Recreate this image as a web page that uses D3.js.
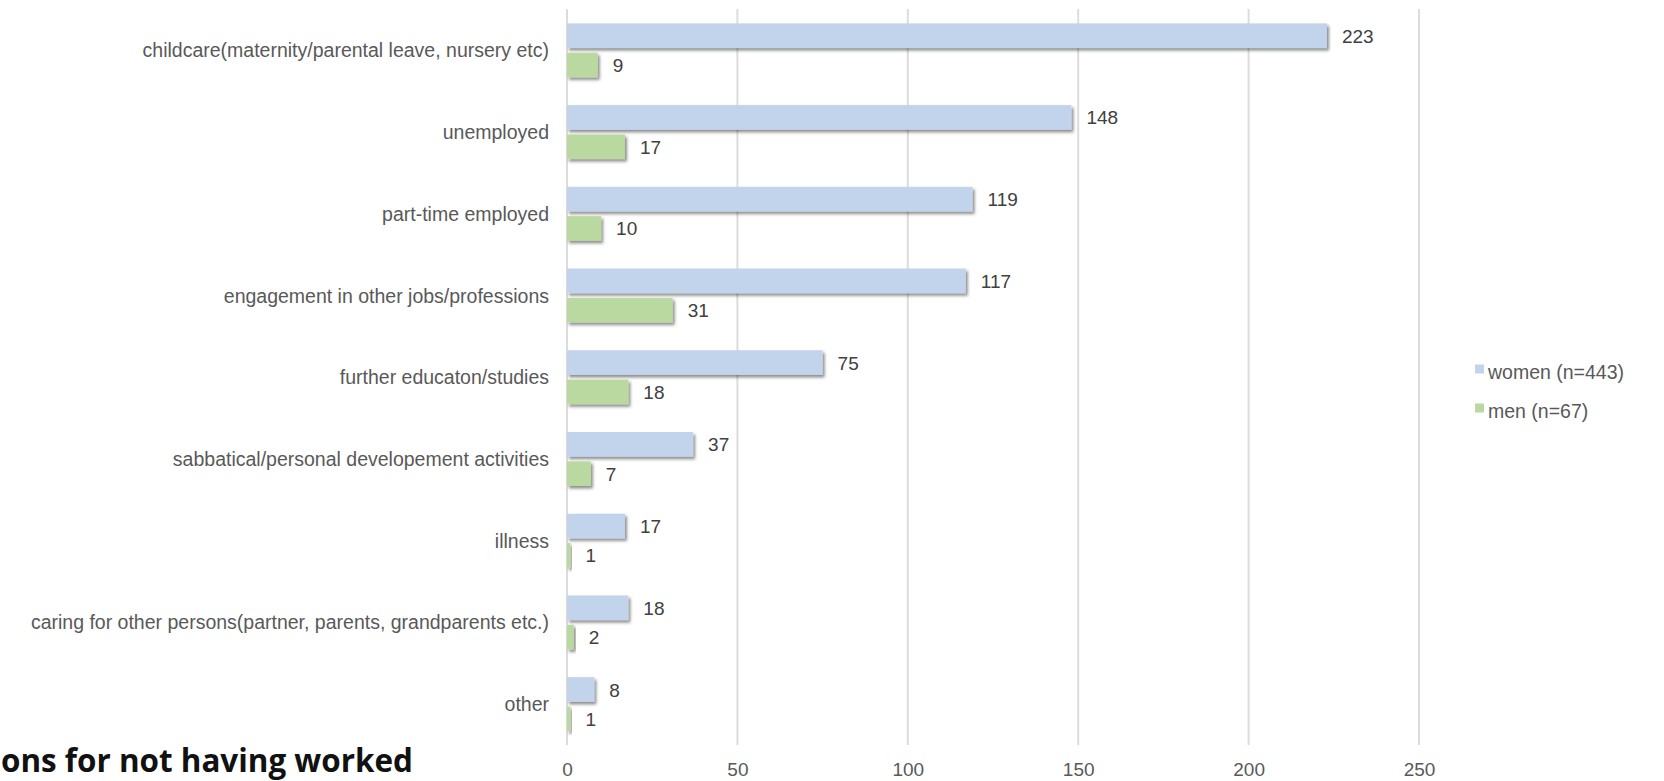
<!DOCTYPE html>
<html>
<head>
<meta charset="utf-8">
<script src="https://cdn.jsdelivr.net/npm/d3@7"></script>
<style>
  html, body { margin: 0; padding: 0; background: #fff; overflow: hidden; }
  svg { display: block; }
</style>
</head>
<body>
<svg id="chart" width="1664" height="781"></svg>
<script>
// Reasons given for not having worked, counted by gender
const categories = [
  "childcare(maternity/parental leave, nursery etc)",
  "unemployed",
  "part-time employed",
  "engagement in other jobs/professions",
  "further educaton/studies",
  "sabbatical/personal developement activities",
  "illness",
  "caring for other persons(partner, parents, grandparents etc.)",
  "other"
];
const seriesNames = ["women (n=443)", "men (n=67)"];
const women = [223, 148, 119, 117, 75, 37, 17, 18, 8];
const men = [9, 17, 10, 31, 18, 7, 1, 2, 1];
const xTicks = [0, 50, 100, 150, 200, 250];
const title = "ons for not having worked";

const colors = ["#c2d3ec", "#b9d9a0"];
const seriesValues = [women, men];
const labelFont = "Liberation Sans, Arial, sans-serif";

const svg = d3.select("#chart");

const defs = svg.append("defs");
const shadow = defs.append("filter")
  .attr("id", "barShadow")
  .attr("x", "-20%").attr("y", "-40%")
  .attr("width", "140%").attr("height", "200%");
shadow.append("feDropShadow")
  .attr("dx", 2).attr("dy", 2.5)
  .attr("stdDeviation", 1.4)
  .attr("flood-color", "#000")
  .attr("flood-opacity", 0.45);

const x = d3.scaleLinear().domain([0, 250]).range([567, 1419]);

const y = d3.scaleBand()
  .domain(categories)
  .range([9.5, 745])
  .paddingInner(0.34)
  .paddingOuter(0.17);

const ySub = d3.scaleBand()
  .domain(seriesNames)
  .range([0, y.bandwidth()])
  .paddingInner(0.16);

// vertical gridlines
svg.append("g")
  .selectAll("line")
  .data(xTicks)
  .join("line")
  .attr("x1", d => x(d)).attr("x2", d => x(d))
  .attr("y1", 9).attr("y2", 745)
  .attr("stroke", "#dcdcdc")
  .attr("stroke-width", 2);

// x axis labels
const xAxis = d3.axisBottom(x).tickValues(xTicks).tickSize(0).tickPadding(0);
const gx = svg.append("g").attr("transform", "translate(0,762)").call(xAxis);
gx.select(".domain").remove();
gx.selectAll("text")
  .attr("font-family", labelFont)
  .attr("font-size", 19)
  .attr("fill", "#595959")
  .attr("dy", "0.71em");

// category labels
const yAxis = d3.axisLeft(y).tickSize(0).tickPadding(18);
const gy = svg.append("g").attr("transform", `translate(${x(0)},0)`).call(yAxis);
gy.select(".domain").remove();
gy.selectAll("text")
  .attr("font-family", labelFont)
  .attr("font-size", 19.5)
  .attr("fill", "#595959")
  .attr("dy", "0.36em");

// bars
const rows = [];
categories.forEach((c, i) => {
  seriesNames.forEach((s, j) => {
    rows.push({ category: c, series: s, value: seriesValues[j][i], color: colors[j] });
  });
});

svg.append("g")
  .selectAll("rect")
  .data(rows)
  .join("rect")
  .attr("x", x(0))
  .attr("y", d => y(d.category) + ySub(d.series))
  .attr("width", d => x(d.value) - x(0))
  .attr("height", ySub.bandwidth())
  .attr("fill", d => d.color)
  .attr("filter", "url(#barShadow)");

// value labels
svg.append("g")
  .selectAll("text")
  .data(rows)
  .join("text")
  .attr("x", d => x(d.value) + 15)
  .attr("y", d => y(d.category) + ySub(d.series) + ySub.bandwidth() / 2)
  .attr("dy", "0.37em")
  .attr("font-family", labelFont)
  .attr("font-size", 19)
  .attr("fill", "#404040")
  .text(d => d.value);

// legend
const legend = svg.append("g")
  .selectAll("g")
  .data(seriesNames)
  .join("g")
  .attr("transform", (d, i) => `translate(1475,${369 + i * 39})`);
legend.append("rect")
  .attr("x", 0).attr("y", -4.5)
  .attr("width", 9).attr("height", 9)
  .attr("fill", (d, i) => colors[i]);
legend.append("text")
  .attr("x", 13).attr("dy", "0.5em")
  .attr("font-family", labelFont)
  .attr("font-size", 19.5)
  .attr("fill", "#595959")
  .text(d => d);

// title, sized to its line width
const titleText = svg.append("text")
  .attr("x", 1)
  .attr("y", 772)
  .attr("font-family", "'Open Sans', Lato, sans-serif")
  .attr("font-weight", "bold")
  .attr("font-size", 30)
  .attr("fill", "#111")
  .text(title);
const w = titleText.node().getComputedTextLength();
titleText.attr("font-size", 30 * 412 / w);
</script>
</body>
</html>
